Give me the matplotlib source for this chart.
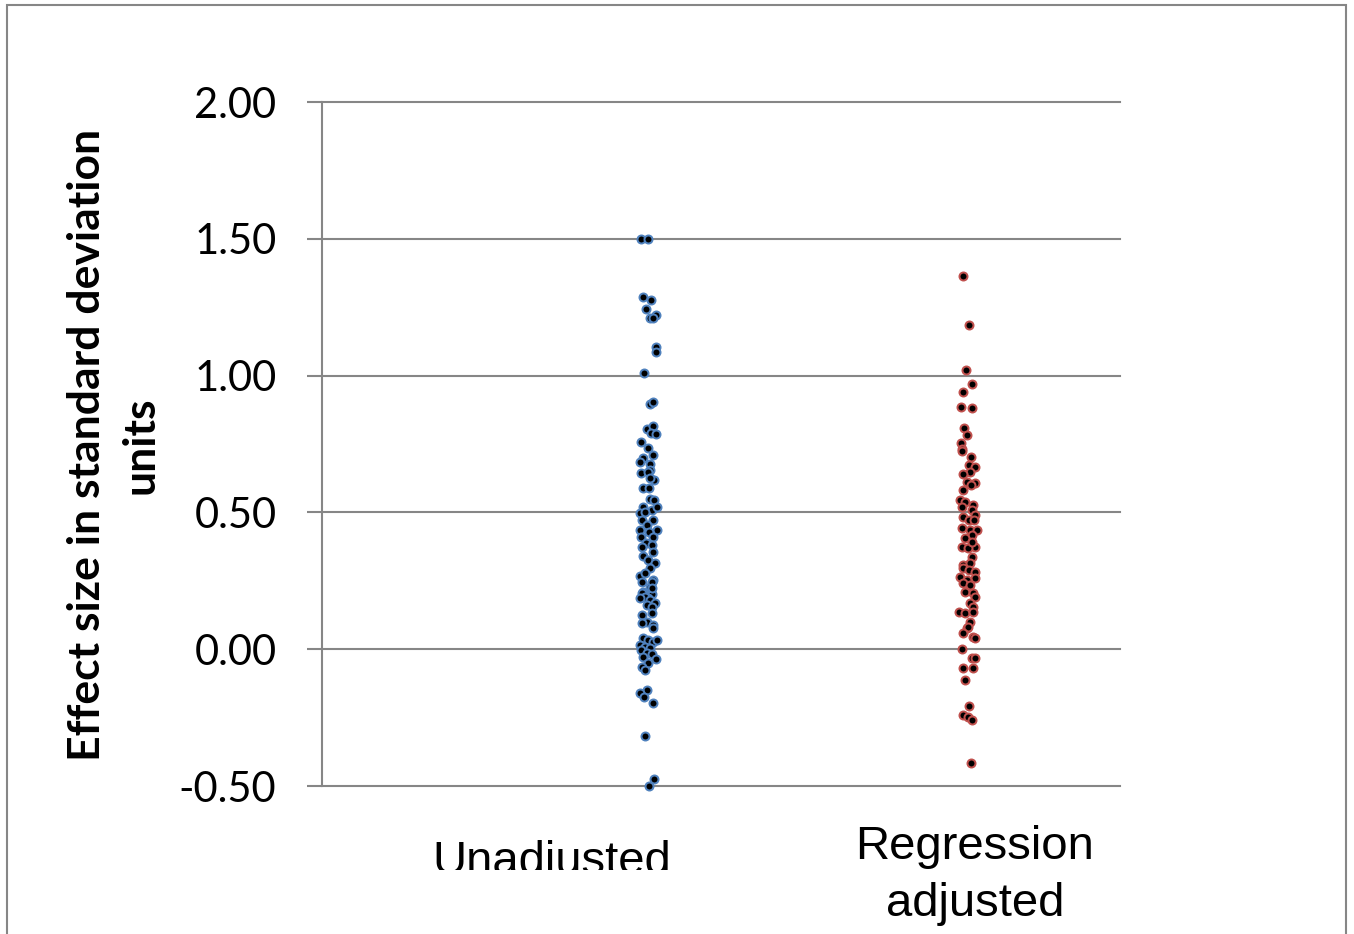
import matplotlib.pyplot as plt
import matplotlib.transforms as mtransforms
from matplotlib.patches import Rectangle
import numpy as np

# categories and where their labels sit on the x scale
categories = ['Unadjusted', 'Regression\nadjusted']
label_x = [0.865, 2.455]
centers = [1.226, 2.429]   # centre of each dot strip

# effect sizes, unadjusted
unadj_vals = [1.50, 1.50, 1.287, 1.276, 1.243, 1.222, 1.211, 1.210, 1.106, 1.086,
              1.011, 0.898, 0.902, 0.805, 0.816, 0.790, 0.787, 0.757, 0.735, 0.710,
              0.699, 0.684, 0.677, 0.655, 0.644, 0.648, 0.618, 0.626, 0.589, 0.589,
              0.549, 0.545, 0.520, 0.509, 0.520, 0.498, 0.502, 0.472, 0.472, 0.454,
              0.436, 0.436, 0.430, 0.410, 0.410, 0.388, 0.381, 0.374, 0.355, 0.340,
              0.326, 0.316, 0.297, 0.268, 0.279, 0.253, 0.227, 0.209, 0.200, 0.191,
              0.187, 0.246, 0.246, 0.224, 0.205, 0.191, 0.180, 0.169, 0.187, 0.162,
              0.154, 0.125, 0.132, 0.100, 0.096, 0.088, 0.077, 0.040, 0.033, 0.026,
              0.033, 0.015, 0.008, 0.004, -0.003, -0.014, -0.018, -0.029, -0.036, -0.051,
              -0.065, -0.076, -0.149, -0.160, -0.175, -0.197, -0.317, -0.474, -0.500]
unadj_jit = [-0.026, 0.000, -0.019, 0.011, -0.008, 0.030, 0.008, 0.019, 0.030, 0.030,
             -0.015, 0.008, 0.019, -0.004, 0.019, 0.011, 0.030, -0.026, 0.000, 0.019,
             -0.019, -0.030, 0.008, 0.008, -0.026, 0.000, 0.023, 0.008, -0.019, 0.004,
             0.008, 0.023, -0.019, 0.015, 0.034, -0.030, -0.011, 0.019, -0.023, -0.004,
             0.034, -0.030, 0.004, -0.026, 0.019, -0.008, 0.015, -0.023, 0.019, -0.019,
             0.000, 0.026, 0.008, -0.030, -0.011, 0.019, 0.008, -0.019, 0.015, -0.023,
             0.000, -0.023, 0.015, 0.015, -0.023, -0.011, 0.008, 0.026, -0.030, -0.004,
             0.015, -0.023, 0.015, -0.004, -0.023, 0.019, 0.019, -0.019, 0.000, 0.019,
             0.034, -0.030, -0.011, 0.008, -0.026, -0.004, 0.015, -0.019, 0.030, 0.000,
             -0.023, -0.011, -0.004, -0.030, -0.015, 0.019, -0.011, 0.023, 0.004]

# effect sizes, regression adjusted
adj_vals = [1.364, 1.185, 1.020, 0.969, 0.940, 0.885, 0.882, 0.808, 0.783, 0.754,
            0.732, 0.724, 0.703, 0.673, 0.666, 0.648, 0.640, 0.611, 0.607, 0.600,
            0.582, 0.545, 0.538, 0.527, 0.520, 0.509, 0.490, 0.483, 0.472, 0.472,
            0.443, 0.436, 0.436, 0.417, 0.406, 0.374, 0.374, 0.370, 0.392, 0.337,
            0.308, 0.315, 0.297, 0.289, 0.282, 0.264, 0.260, 0.253, 0.242, 0.235,
            0.209, 0.206, 0.191, 0.169, 0.154, 0.136, 0.132, 0.136, 0.100, 0.077,
            0.081, 0.059, 0.044, 0.040, 0.000, -0.032, -0.032, -0.070, -0.070, -0.113,
            -0.208, -0.240, -0.248, -0.259, -0.416]
adj_jit = [-0.019, 0.004, -0.008, 0.015, -0.019, -0.026, 0.015, -0.015, -0.004, -0.026,
           -0.023, -0.023, 0.011, 0.004, 0.026, 0.008, -0.019, -0.004, 0.026, 0.011,
           -0.019, -0.030, -0.011, 0.019, -0.023, 0.015, 0.026, -0.019, 0.004, 0.023,
           -0.023, 0.008, 0.034, 0.015, -0.011, -0.023, 0.026, 0.000, 0.015, 0.015,
           -0.019, 0.008, -0.019, 0.004, 0.026, -0.030, 0.026, -0.004, -0.019, 0.008,
           -0.011, 0.019, 0.026, 0.008, 0.019, -0.034, -0.011, 0.019, 0.008, -0.004,
           0.000, -0.019, 0.019, 0.026, -0.023, 0.015, 0.026, -0.019, 0.019, -0.011,
           0.004, -0.019, 0.000, 0.015, 0.011]

yticks = [-0.5, 0.0, 0.5, 1.0, 1.5, 2.0]
ylabel = 'Effect size in standard deviation\nunits'

grey = '#868686'
W, H = 1354, 934
fig = plt.figure(figsize=(W / 100, H / 100), dpi=100)
ax = fig.add_axes([322 / W, 1 - 786 / H, 798 / W, 684 / H])

ax.scatter(centers[0] + np.array(unadj_jit), unadj_vals, s=33, c='black',
           edgecolors='#4F81BD', linewidths=1.44, zorder=3, clip_on=False)
ax.scatter(centers[1] + np.array(adj_jit), adj_vals, s=33, c='black',
           edgecolors='#C0504D', linewidths=1.44, zorder=3, clip_on=False)

ax.set_xlim(0, 3)
ax.set_ylim(-0.5, 2.0)
ax.set_yticks(yticks)
ax.set_yticklabels(['%.2f' % v for v in yticks], family='Lato', fontsize=30)
ax.set_xticks([])
ax.yaxis.grid(True, color=grey, lw=1.5)
for gl in ax.get_ygridlines():
    gl.set_clip_on(False)
ax.set_axisbelow(True)
for s in ['top', 'right', 'bottom']:
    ax.spines[s].set_visible(False)
ax.spines['left'].set_color(grey)
ax.spines['left'].set_linewidth(1.5)
ax.tick_params(axis='y', direction='out', length=10.8, width=1.5, color=grey, pad=22)

# category labels under the axis (the first one is cut off at the bottom)
trans = mtransforms.blended_transform_factory(ax.transData, fig.transFigure)
t1 = fig.text(label_x[0], 1 - 840 / H, categories[0], transform=trans, ha='center',
              va='top', fontsize=34, family='Liberation Sans')
t1.set_clip_box(mtransforms.Bbox.from_extents(0, H - 870, W, H))
t1.set_clip_on(True)
fig.text(label_x[1], 1 - 825 / H, categories[1], transform=trans, ha='center',
         va='top', fontsize=34, family='Liberation Sans', linespacing=1.38)

fig.text(114 / W, 1 - 445 / H, ylabel, rotation=90, ha='center', va='center',
         fontsize=32, fontweight='bold', family='Lato', linespacing=1.42)

fig.add_artist(Rectangle((7 / W, -0.05), (1346 - 7) / W, (H - 5) / H + 0.05,
                         transform=fig.transFigure, fill=False, ec=grey, lw=1.5))

fig.savefig('out.png', dpi=100)
